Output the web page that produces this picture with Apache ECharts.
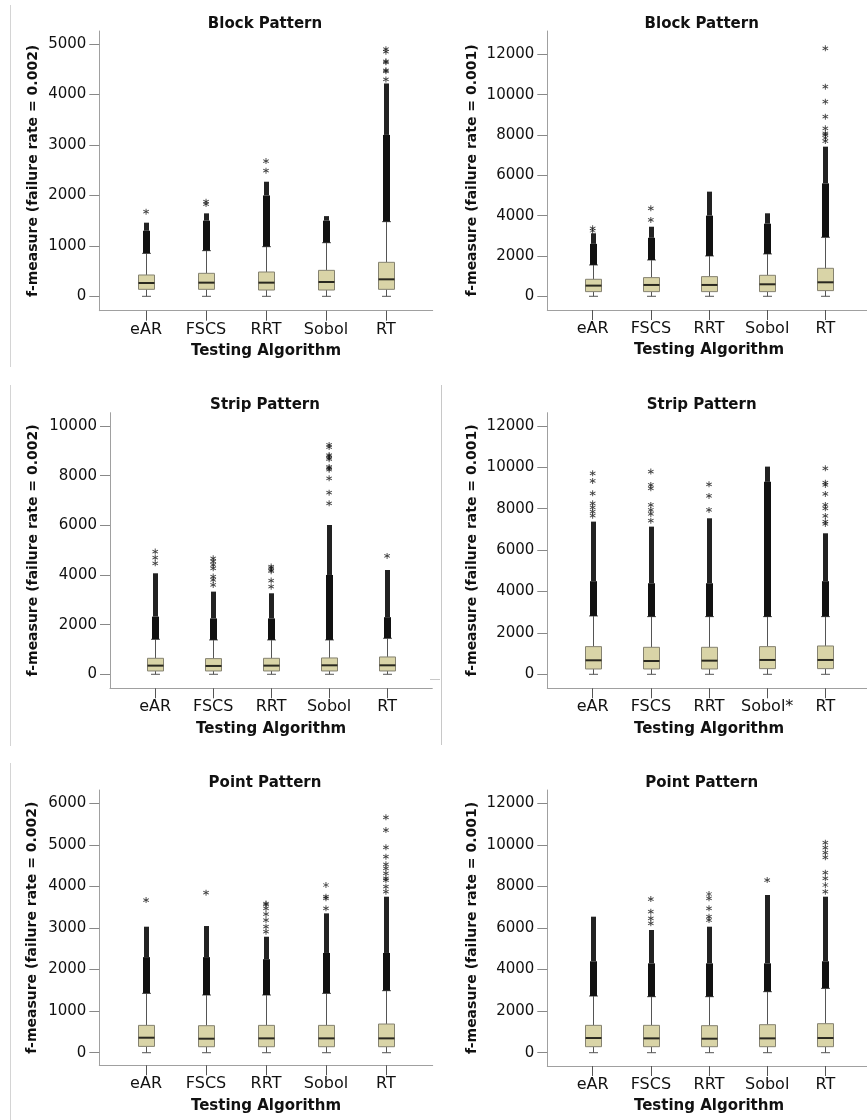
<!DOCTYPE html>
<html>
<head>
<meta charset="utf-8">
<script src="https://cdn.jsdelivr.net/npm/echarts@6/dist/echarts.min.js"></script>
<style>
  html, body { margin: 0; padding: 0; background: #fff; }
  #chart { width: 867px; height: 1120px; }
</style>
</head>
<body>
<div id="chart"></div>
<script>
// Algorithms compared in every panel
const categories = ['eAR', 'FSCS', 'RRT', 'Sobol', 'RT'];
const categoriesStrip001 = ['eAR', 'FSCS', 'RRT', 'Sobol*', 'RT'];

// Y tick values
const ticks5000 = [0, 1000, 2000, 3000, 4000, 5000];
const ticks6000 = [0, 1000, 2000, 3000, 4000, 5000, 6000];
const ticks10000 = [0, 2000, 4000, 6000, 8000, 10000];
const ticks12000 = [0, 2000, 4000, 6000, 8000, 10000, 12000];

// Box statistics per algorithm: [lower whisker, Q1, median, Q3, upper whisker]
// Dense outlier runs per algorithm: [from, end of solid run, end of thinner run]
// Isolated outliers: [algorithm index, f-measure]

// Block pattern, failure rate 0.002
const blockBox002 = [[0, 139, 264, 423, 852], [0, 139, 271, 456, 905], [0, 125, 271, 482, 984], [0, 125, 284, 515, 1063], [0, 139, 337, 674, 1480]];
const blockDense002 = [[852, 1300, 1460], [905, 1500, 1645], [984, 2000, 2272], [1063, 1500, 1590], [1480, 3200, 4220]];
const blockStars002 = [[0, 1678], [1, 1830], [1, 1876], [2, 2490], [2, 2682], [4, 4300], [4, 4460], [4, 4480], [4, 4640], [4, 4660], [4, 4850], [4, 4900]];

// Block pattern, failure rate 0.001
const blockBox001 = [[0, 231, 529, 843, 1554], [0, 231, 562, 926, 1800], [0, 231, 562, 975, 2000], [0, 231, 595, 1041, 2100], [0, 281, 694, 1388, 2926]];
const blockDense001 = [[1554, 2600, 3124], [1800, 2900, 3450], [2000, 4000, 5190], [2100, 3600, 4116], [2926, 5600, 7421]];
const blockStars001 = [[0, 3250], [0, 3372], [1, 3785], [1, 4364], [4, 7700], [4, 7850], [4, 8000], [4, 8083], [4, 8330], [4, 8909], [4, 9653], [4, 10397], [4, 12298]];

// Strip pattern, failure rate 0.002
const stripBox002 = [[0, 134, 349, 644, 1409], [0, 134, 336, 631, 1383], [0, 134, 349, 644, 1383], [0, 134, 362, 658, 1383], [0, 134, 362, 698, 1450]];
const stripDense002 = [[1409, 2322, 4067], [1383, 2250, 3329], [1383, 2250, 3262], [1383, 4000, 6013], [1450, 2300, 4200]];
const stripStars002 = [[0, 4470], [0, 4698], [0, 4940], [1, 3597], [1, 3800], [1, 3933], [1, 4268], [1, 4403], [1, 4550], [1, 4671],
  [2, 3530], [2, 3772], [2, 4150], [2, 4200], [2, 4280], [2, 4336],
  [3, 6886], [3, 7315], [3, 7893], [3, 8240], [3, 8300], [3, 8350], [3, 8660], [3, 8720], [3, 8780], [3, 8830], [3, 9150], [3, 9235], [4, 4765]];

// Strip pattern, failure rate 0.001
const stripBox001 = [[0, 258, 677, 1337, 2819], [0, 258, 644, 1305, 2787], [0, 258, 660, 1305, 2787], [0, 274, 693, 1337, 2787], [0, 274, 693, 1369, 2787]];
const stripDense001 = [[2819, 4500, 7378], [2787, 4400, 7136], [2787, 4400, 7539], [2787, 9300, 10036], [2787, 4500, 6814]];
const stripStars001 = [[0, 7667], [0, 7860], [0, 8070], [0, 8263], [0, 8747], [0, 9343], [0, 9713],
  [1, 7426], [1, 7748], [1, 7942], [1, 8183], [1, 8988], [1, 9150], [1, 9794],
  [2, 7942], [2, 8618], [2, 9182],
  [4, 7265], [4, 7378], [4, 7652], [4, 8022], [4, 8183], [4, 8715], [4, 9150], [4, 9262], [4, 9955]];

// Point pattern, failure rate 0.002
const pointBox002 = [[0, 152, 361, 658, 1428], [0, 144, 337, 650, 1388], [0, 144, 345, 658, 1388], [0, 144, 345, 658, 1428], [0, 144, 345, 690, 1492]];
const pointDense002 = [[1428, 2300, 3032], [1388, 2300, 3048], [1388, 2250, 2791], [1428, 2400, 3353], [1492, 2400, 3754]];
const pointStars002 = [[0, 3674], [1, 3850], [2, 2912], [2, 3032], [2, 3192], [2, 3337], [2, 3473], [2, 3570], [2, 3590],
  [3, 3473], [3, 3714], [3, 3754], [3, 4035],
  [4, 3874], [4, 3994], [4, 4155], [4, 4195], [4, 4315], [4, 4436], [4, 4532], [4, 4716], [4, 4941], [4, 5358], [4, 5663]];

// Point pattern, failure rate 0.001
const pointBox001 = [[0, 289, 706, 1316, 2727], [0, 289, 690, 1316, 2695], [0, 289, 674, 1300, 2695], [0, 289, 690, 1348, 2936], [0, 289, 706, 1396, 3096]];
const pointDense001 = [[2727, 4400, 6546], [2695, 4300, 5904], [2695, 4300, 6064], [2936, 4300, 7589], [3096, 4400, 7508]];
const pointStars001 = [[1, 6225], [1, 6466], [1, 6786], [1, 7396], [2, 6385], [2, 6546], [2, 6947], [2, 7428], [2, 7637],
  [3, 8310], [4, 7749], [4, 8070], [4, 8391], [4, 8663], [4, 9401], [4, 9626], [4, 9867], [4, 10107]];

const yName002 = 'f-measure (failure rate = 0.002)';
const yName001 = 'f-measure (failure rate = 0.001)';

// Panel layout
const panels = [
  { title: 'Block Pattern', tx: 260, ty: 12, grid: [99.3, 31, 333.4, 279.7], yMin: -285, yMax: 5260, ticks: ticks5000, yName: yName002, yGap: 59, cats: categories, box: blockBox002, dense: blockDense002, stars: blockStars002 },
  { title: 'Block Pattern', tx: 696.7, ty: 12, grid: [547.3, 31, 323.4, 279], yMin: -680, yMax: 13157, ticks: ticks12000, yName: yName001, yGap: 68, cats: categories, box: blockBox001, dense: blockDense001, stars: blockStars001 },
  { title: 'Strip Pattern', tx: 260, ty: 393, grid: [110, 412.7, 322.3, 275.6], yMin: -564, yMax: 10534, ticks: ticks10000, yName: yName002, yGap: 70, cats: categories, box: stripBox002, dense: stripDense002, stars: stripStars002 },
  { title: 'Strip Pattern', tx: 696.7, ty: 393, grid: [547.3, 412.7, 323.4, 275.6], yMin: -676, yMax: 12641, ticks: ticks12000, yName: yName001, yGap: 68, cats: categoriesStrip001, box: stripBox001, dense: stripDense001, stars: stripStars001 },
  { title: 'Point Pattern', tx: 260, ty: 771, grid: [99.3, 790, 333.4, 275.3], yMin: -303, yMax: 6321, ticks: ticks6000, yName: yName002, yGap: 60, cats: categories, box: pointBox002, dense: pointDense002, stars: pointStars002 },
  { title: 'Point Pattern', tx: 696.7, ty: 771, grid: [547.3, 790, 323.4, 276], yMin: -640, yMax: 12642, ticks: ticks12000, yName: yName001, yGap: 68, cats: categories, box: pointBox001, dense: pointDense001, stars: pointStars001 }
];

const FONT = 'DejaVu Sans';
const catIdx = [0, 1, 2, 3, 4];
const asterisk = 'path://M4.3,0L5.7,0L5.7,10L4.3,10Z M1.02,1.89L9.68,6.89L8.98,8.11L0.32,3.11Z M0.32,6.89L8.98,1.89L9.68,3.11L1.02,8.11Z';

function renderBox(params, api) {
  const x = api.value(0);
  const lo = api.coord([x, api.value(1)]);
  const q1 = api.coord([x, api.value(2)]);
  const md = api.coord([x, api.value(3)]);
  const q3 = api.coord([x, api.value(4)]);
  const hi = api.coord([x, api.value(5)]);
  const cx = Math.round(lo[0]) + 0.5;
  const w = 16, cap = 9;
  const whisker = { stroke: '#555', lineWidth: 1 };
  return {
    type: 'group',
    children: [
      { type: 'line', shape: { x1: cx, y1: lo[1], x2: cx, y2: q1[1] }, style: whisker },
      { type: 'line', shape: { x1: cx, y1: q3[1], x2: cx, y2: hi[1] }, style: whisker },
      { type: 'line', shape: { x1: cx - cap / 2, y1: lo[1], x2: cx + cap / 2, y2: lo[1] }, style: whisker },
      { type: 'line', shape: { x1: cx - cap / 2, y1: hi[1], x2: cx + cap / 2, y2: hi[1] }, style: whisker },
      { type: 'rect', shape: { x: cx - w / 2, y: q3[1], width: w, height: q1[1] - q3[1] }, style: { fill: '#d9d4a7', stroke: '#858270', lineWidth: 1 } },
      { type: 'line', shape: { x1: cx - w / 2, y1: md[1], x2: cx + w / 2, y2: md[1] }, style: { stroke: '#2a2920', lineWidth: 2 } }
    ]
  };
}

function renderDense(params, api) {
  const x = api.value(0);
  const a = api.coord([x, api.value(1)]);
  const b = api.coord([x, api.value(2)]);
  const c = api.coord([x, api.value(3)]);
  const cx = Math.round(a[0]) + 0.5;
  return {
    type: 'group',
    children: [
      { type: 'rect', shape: { x: cx - 3.5, y: b[1], width: 7, height: a[1] - b[1] }, style: { fill: '#111' } },
      { type: 'rect', shape: { x: cx - 2.5, y: c[1], width: 5, height: b[1] - c[1] }, style: { fill: '#222' } }
    ]
  };
}

const option = {
  backgroundColor: '#fff',
  animation: false,
  title: panels.map(p => ({
    text: p.title, left: p.tx, top: p.ty, textAlign: 'center',
    textStyle: { fontFamily: FONT, fontWeight: 'bold', fontSize: 15, color: '#111' }
  })),
  grid: panels.map(p => ({
    left: p.grid[0], top: p.grid[1], width: p.grid[2], height: p.grid[3],
    containLabel: false, outerBoundsMode: 'none'
  })),
  xAxis: panels.map((p, i) => ({
    gridIndex: i, type: 'value', min: -0.78, max: 4.78,
    axisLine: { show: true, onZero: false, lineStyle: { color: '#a0a0a0', width: 1 } },
    axisTick: { show: true, customValues: catIdx, length: 10, lineStyle: { color: '#555' } },
    axisLabel: { show: true, customValues: catIdx, formatter: v => p.cats[Math.round(v)], margin: 11, fontFamily: FONT, fontSize: 16, color: '#111' },
    splitLine: { show: false },
    name: 'Testing Algorithm', nameLocation: 'middle', nameGap: 33,
    nameTextStyle: { fontFamily: FONT, fontWeight: 'bold', fontSize: 15, color: '#111' }
  })),
  yAxis: panels.map((p, i) => ({
    gridIndex: i, type: 'value', min: p.yMin, max: p.yMax,
    axisLine: { show: true, onZero: false, lineStyle: { color: '#a0a0a0', width: 1 } },
    axisTick: { show: true, customValues: p.ticks, length: 10, lineStyle: { color: '#888' } },
    axisLabel: { show: true, customValues: p.ticks, formatter: v => String(Math.round(v)), margin: 13, fontFamily: FONT, fontSize: 15, color: '#111' },
    splitLine: { show: false },
    name: p.yName, nameLocation: 'middle', nameRotate: 90, nameGap: p.yGap,
    nameTextStyle: { fontFamily: FONT, fontWeight: 'bold', fontSize: 14, color: '#111' }
  })),
  series: [].concat(...panels.map((p, i) => [
    {
      type: 'custom', xAxisIndex: i, yAxisIndex: i, renderItem: renderBox,
      encode: { x: 0, y: [1, 2, 3, 4, 5] },
      data: p.box.map((b, k) => [k].concat(b))
    },
    {
      type: 'custom', xAxisIndex: i, yAxisIndex: i, renderItem: renderDense,
      encode: { x: 0, y: [1, 2, 3] },
      data: p.dense.map((d, k) => [k].concat(d))
    },
    {
      type: 'scatter', xAxisIndex: i, yAxisIndex: i, symbol: asterisk, symbolSize: 6,
      itemStyle: { color: '#111' }, data: p.stars
    }
  ])),
  graphic: [
    // thin frame fragments between panels
    { type: 'line', shape: { x1: 10.5, y1: 5, x2: 10.5, y2: 367 }, style: { stroke: '#d4d4d4', lineWidth: 1 }, silent: true },
    { type: 'line', shape: { x1: 10.5, y1: 385, x2: 10.5, y2: 746 }, style: { stroke: '#d4d4d4', lineWidth: 1 }, silent: true },
    { type: 'line', shape: { x1: 10.5, y1: 763, x2: 10.5, y2: 1120 }, style: { stroke: '#d4d4d4', lineWidth: 1 }, silent: true },
    { type: 'line', shape: { x1: 441.5, y1: 385, x2: 441.5, y2: 745 }, style: { stroke: '#c8c8c8', lineWidth: 1 }, silent: true },
    { type: 'line', shape: { x1: 430, y1: 679.5, x2: 440, y2: 679.5 }, style: { stroke: '#c8c8c8', lineWidth: 1 }, silent: true }
  ]
};

const chart = echarts.init(document.getElementById('chart'), null, { renderer: 'canvas' });
chart.setOption(option);
</script>
</body>
</html>
